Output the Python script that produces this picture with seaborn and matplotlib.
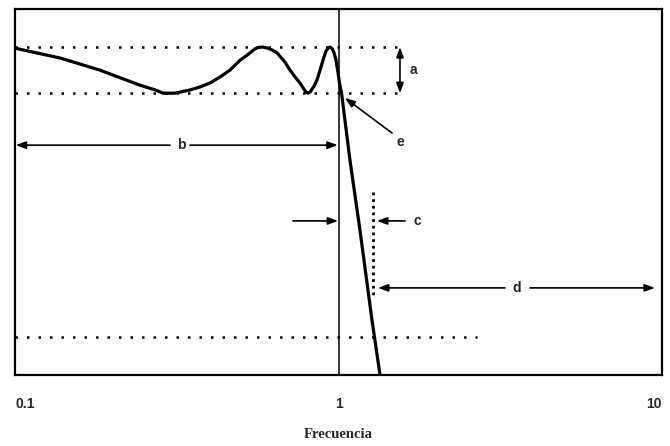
import matplotlib
matplotlib.use("Agg")
import matplotlib.pyplot as plt
from matplotlib.ticker import NullLocator
import seaborn as sns
import pandas as pd

# Frequency response of a low-pass filter with passband ripple (normalised frequency, arbitrary level)
freq = [0.100, 0.138, 0.183, 0.243, 0.271, 0.287, 0.312, 0.348, 0.373, 0.401,
        0.430, 0.462, 0.496, 0.522, 0.552, 0.564, 0.584, 0.605, 0.623, 0.646,
        0.683, 0.708, 0.739, 0.760, 0.782, 0.794, 0.805, 0.817, 0.840, 0.858,
        0.877, 0.896, 0.915, 0.928, 0.941, 0.955, 0.969, 0.982, 0.997, 1.007,
        1.022, 1.085, 1.165, 1.269, 1.344]
level = [89.3, 86.6, 83.3, 79.2, 77.9, 77.0, 77.0, 77.9, 78.7, 79.8,
         81.4, 83.3, 86.0, 87.4, 89.1, 89.5, 89.6, 89.3, 88.8, 88.0,
         85.5, 83.3, 81.1, 79.8, 78.1, 77.3, 77.0, 77.3, 78.9, 80.6,
         83.3, 86.1, 88.5, 89.3, 89.6, 89.2, 88.0, 86.1, 82.5, 79.8,
         77.0, 58.7, 39.6, 15.0, 0.0]

# Specification levels and frequencies
ripple_top = 89.6
ripple_bottom = 77.0
stop_level = 10.4
cutoff = 1.0
stop_edge = 1.278
ticks = [0.1, 1, 10]
tick_labels = ["0.1", "1", "10"]

sns.set_style("white")
plt.rcParams["font.family"] = ["Liberation Sans", "DejaVu Sans"]

fig = plt.figure(figsize=(6.7, 4.46), dpi=100)
ax = fig.add_axes([15 / 670, 71 / 446, 647 / 670, 366 / 446])

df = pd.DataFrame({"Frecuencia": freq, "Nivel": level})
sns.lineplot(data=df, x="Frecuencia", y="Nivel", ax=ax, color="black",
             linewidth=2.3, estimator=None, sort=False,
             solid_joinstyle="round", solid_capstyle="round")

ax.set_xscale("log")
ax.set_xlim(0.1, 10)
ax.set_ylim(0, 100)

# cutoff frequency marker
ax.axvline(cutoff, color="black", linewidth=1.1)

dot = dict(color="black", linewidth=1.8, linestyle=(0, (1, 3.6)))
ax.plot([0.1, 1.549], [ripple_top, ripple_top], **dot)
ax.plot([0.1, 1.549], [ripple_bottom, ripple_bottom], **dot)
ax.plot([0.1, 2.68], [stop_level, stop_level], **dot)
ax.plot([stop_edge, stop_edge], [50.0, 21.3], color="black", linewidth=2.0,
        linestyle=(0, (1, 1.4)))

head = "-|>,head_length=0.6,head_width=0.22"
dhead = "<|-|>,head_length=0.6,head_width=0.22"
akw = dict(color="black", lw=1.2, shrinkA=0, shrinkB=0)

def arrow(x0, y0, x1, y1, style=head):
    ax.annotate("", xy=(x1, y1), xytext=(x0, y0),
                arrowprops=dict(arrowstyle=style, mutation_scale=10, **akw))

lab = dict(fontsize=10, fontweight="bold", ha="center", va="center")

# a: passband ripple
arrow(1.549, ripple_bottom, 1.549, ripple_top, dhead)
ax.text(1.70, 83.3, "a", **lab)

# b: passband width
arrow(0.3014, 62.8, 0.1005, 62.8)
arrow(0.3475, 62.8, 0.995, 62.8)
ax.text(0.326, 62.8, "b", **lab)

# c: transition band
arrow(0.7235, 42.1, 0.997, 42.1)
arrow(1.606, 42.1, 1.315, 42.1)
ax.text(1.748, 42.1, "c", **lab)

# d: stopband
arrow(3.27, 23.8, 1.324, 23.8)
arrow(3.91, 23.8, 9.51, 23.8)
ax.text(3.56, 23.8, "d", **lab)

# e: cutoff point
arrow(1.464, 66.1, 1.047, 75.7)
ax.text(1.549, 63.7, "e", **lab)

ax.set_xticks(ticks)
ax.set_xticklabels(tick_labels, fontsize=10, fontweight="bold")
ax.xaxis.set_minor_locator(NullLocator())
tl = ax.get_xticklabels()
tl[0].set_ha("left")
tl[2].set_ha("right")
ax.tick_params(axis="x", length=0, pad=16)
ax.set_yticks([])
ax.set_ylabel("")
ax.set_xlabel("Frecuencia", fontsize=10.5, fontweight="bold",
              family=["Liberation Serif", "DejaVu Serif"], labelpad=12)

for s in ax.spines.values():
    s.set_color("black")
    s.set_linewidth(1.6)

fig.savefig("out.png", dpi=100, facecolor="white")
